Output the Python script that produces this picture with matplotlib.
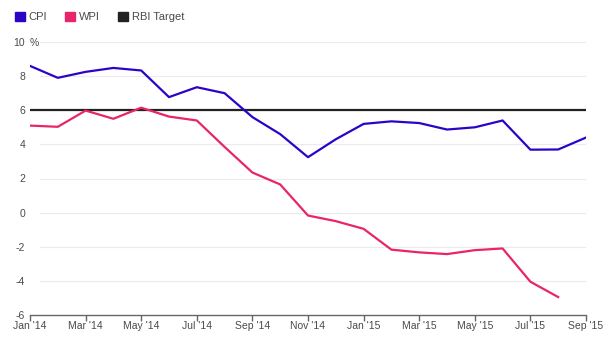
import matplotlib
matplotlib.use('Agg')
import matplotlib.pyplot as plt
from matplotlib.patches import Patch
import matplotlib.transforms as mtransforms

# monthly inflation, Jan 2014 - Sep 2015 (%)
months = ["Jan '14", "Feb '14", "Mar '14", "Apr '14", "May '14", "Jun '14", "Jul '14",
          "Aug '14", "Sep '14", "Oct '14", "Nov '14", "Dec '14", "Jan '15", "Feb '15",
          "Mar '15", "Apr '15", "May '15", "Jun '15", "Jul '15", "Aug '15", "Sep '15"]
cpi = [8.6, 7.9, 8.25, 8.48, 8.33, 6.77, 7.35, 7.0, 5.6, 4.6, 3.25, 4.3,
       5.2, 5.35, 5.25, 4.87, 5.0, 5.4, 3.69, 3.7, 4.4]
wpi = [5.1, 5.03, 5.98, 5.5, 6.15, 5.63, 5.4, 3.85, 2.35, 1.65, -0.17, -0.5,
       -0.95, -2.17, -2.33, -2.43, -2.2, -2.1, -4.05, -4.95]
rbi_target = 6
yticks = [-6, -4, -2, 0, 2, 4, 6, 8, 10]

cpi_color = '#2b04c8'
wpi_color = '#e8256b'
rbi_color = '#222222'
grey = '#666666'
txt = '#4a4a4a'

plt.rcParams['font.family'] = ['Liberation Sans', 'DejaVu Sans']

fig = plt.figure(figsize=(6.16, 3.46), dpi=100)
ax = fig.add_axes([30 / 616, 1 - 315 / 346, 556 / 616, 273 / 346])

x_cpi = list(range(len(cpi)))
x_wpi = list(range(len(wpi)))

# light grid, starting a little right of the axis origin
for y in yticks:
    if y != -6:
        ax.axhline(y, xmin=0.018, color='#ebebeb', lw=0.8, zorder=0)

ax.axhline(rbi_target, color=rbi_color, lw=1.6, zorder=2)
ax.plot(x_wpi, wpi, color=wpi_color, lw=1.6, zorder=3)
ax.plot(x_cpi, cpi, color=cpi_color, lw=1.6, zorder=4)

ax.set_xlim(0, len(months) - 1)
ax.set_ylim(-6, 10)

ax.set_xticks(range(0, len(months), 2))
ax.set_xticklabels(months[::2])
ax.set_yticks(yticks)
ax.set_yticklabels([str(v) for v in yticks])

for s in ['top', 'right', 'left']:
    ax.spines[s].set_visible(False)
ax.spines['bottom'].set_color(grey)
ax.spines['bottom'].set_linewidth(1)
ax.tick_params(axis='x', colors=grey, labelcolor=txt, labelsize=7.5,
               length=4, width=1, pad=0.5)
ax.tick_params(axis='y', length=0, labelcolor=txt, labelsize=7.5, pad=3.5)

# percent sign after the top label
trans = mtransforms.blended_transform_factory(fig.transFigure, ax.transData)
ax.text(29.5 / 616, 10, '%', transform=trans, ha='left', va='center_baseline',
        fontsize=7.5, color=txt)

handles = [Patch(color=cpi_color, label='CPI'),
           Patch(color=wpi_color, label='WPI'),
           Patch(color=rbi_color, label='RBI Target')]
fig.legend(handles=handles, loc='upper left', bbox_to_anchor=(0.008, 0.995), ncol=3,
           frameon=False, fontsize=8, handlelength=0.9, handleheight=0.9,
           handletextpad=0.35, columnspacing=1.6, labelcolor=txt)

fig.savefig('out.png', dpi=100)
